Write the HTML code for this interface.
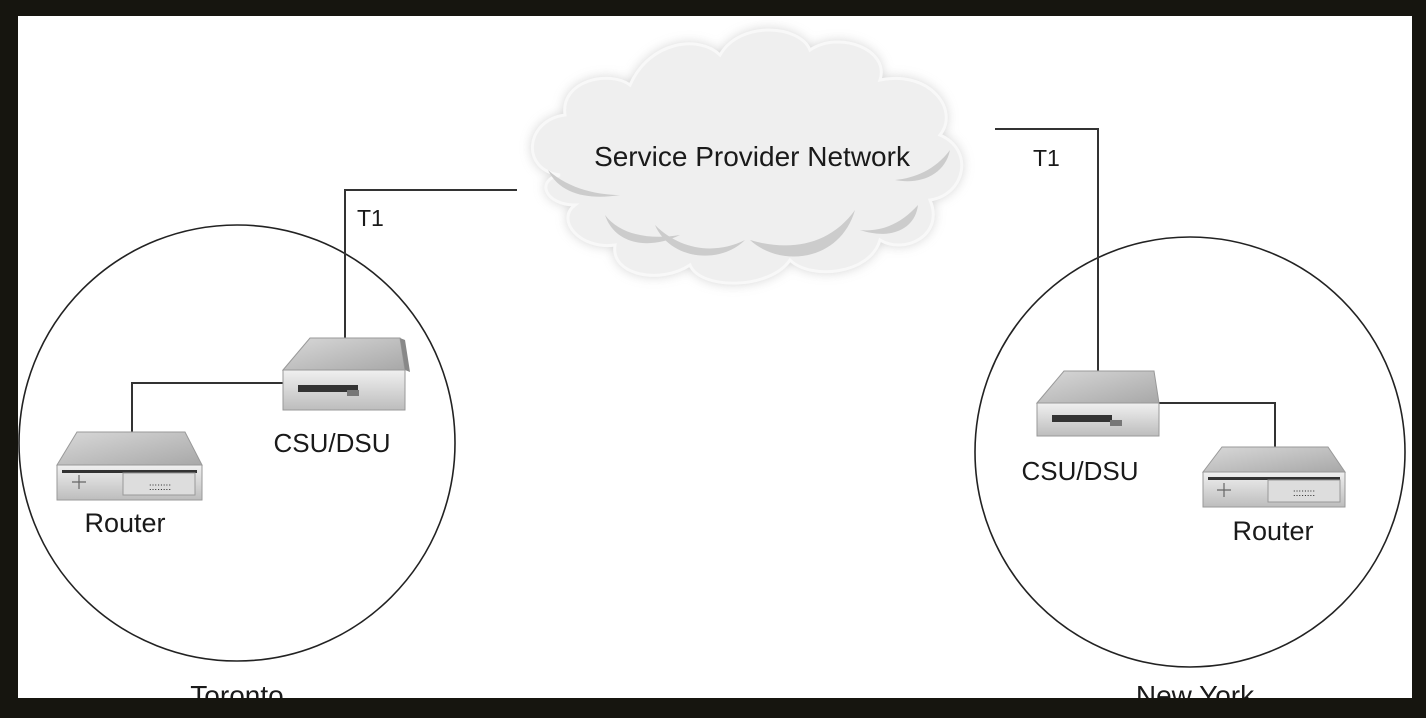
<!DOCTYPE html>
<html><head><style>
body{margin:0;background:#16150f;}
svg{display:block}
text{font-family:"Liberation Sans",sans-serif;fill:#1a1a1a}
</style></head><body>
<svg width="1426" height="718" viewBox="0 0 1426 718">
<defs>
<linearGradient id="top" x1="0" y1="0" x2="1" y2="1"><stop offset="0" stop-color="#d8d8d8"/><stop offset="1" stop-color="#a8a8a8"/></linearGradient>
<linearGradient id="front" x1="0" y1="0" x2="0" y2="1"><stop offset="0" stop-color="#f0f0f0"/><stop offset="1" stop-color="#bdbdbd"/></linearGradient>
<filter id="blur"><feGaussianBlur stdDeviation="6"/></filter>
<clipPath id="page"><rect x="18" y="16" width="1394" height="682"/></clipPath>
</defs>
<rect x="18" y="16" width="1394" height="682" fill="#fff"/>
<g clip-path="url(#page)">
<circle cx="237" cy="443" r="218" fill="none" stroke="#222" stroke-width="1.6"/>
<circle cx="1190" cy="452" r="215" fill="none" stroke="#222" stroke-width="1.6"/>
<polyline points="517,190 345,190 345,338" fill="none" stroke="#333" stroke-width="2"/>
<polyline points="290,383 132,383 132,440" fill="none" stroke="#333" stroke-width="2"/>
<polyline points="995,129 1098,129 1098,372" fill="none" stroke="#333" stroke-width="2"/>
<polyline points="1155,403 1275,403 1275,452" fill="none" stroke="#333" stroke-width="2"/>
<g>
<path d="M560,175 C520,170 525,120 565,115 C560,80 610,70 630,85 C650,40 700,35 720,55 C740,20 800,25 810,50 C840,30 890,50 880,80 C930,70 960,110 940,135 C975,150 965,195 930,200 C945,235 905,255 880,240 C870,275 810,280 790,260 C770,290 700,290 690,265 C660,285 610,275 615,245 C580,250 555,220 575,205 C545,205 535,180 560,175 Z" fill="#aaa" filter="url(#blur)" opacity="0.6"/>
<path d="M560,175 C520,170 525,120 565,115 C560,80 610,70 630,85 C650,40 700,35 720,55 C740,20 800,25 810,50 C840,30 890,50 880,80 C930,70 960,110 940,135 C975,150 965,195 930,200 C945,235 905,255 880,240 C870,275 810,280 790,260 C770,290 700,290 690,265 C660,285 610,275 615,245 C580,250 555,220 575,205 C545,205 535,180 560,175 Z" fill="#efefef" stroke="#f8f8f8" stroke-width="3"/>
<path d="M548,170 C560,195 590,200 620,195 C600,195 570,190 548,170Z" fill="#ccc"/>
<path d="M605,215 C615,245 650,250 680,235 C650,240 620,235 605,215Z" fill="#ccc"/>
<path d="M655,225 C670,260 720,265 745,240 C715,255 680,250 655,225Z" fill="#ccc"/>
<path d="M750,240 C780,268 840,262 855,210 C830,245 790,252 750,240Z" fill="#ccc"/>
<path d="M860,230 C890,240 915,230 918,205 C900,225 880,232 860,230Z" fill="#ccc"/>
<path d="M895,180 C920,185 945,175 950,150 C935,170 915,178 895,180Z" fill="#ccc"/>
<text x="752" y="166" font-size="28" text-anchor="middle">Service Provider Network</text>
</g>
<g>
<polygon points="283,370 310,338 400,338 405,370" fill="url(#top)" stroke="#999"/>
<polygon points="405,370 400,338 405,340 410,372" fill="#888"/>
<rect x="283" y="370" width="122" height="40" fill="url(#front)" stroke="#999"/>
<rect x="298" y="385" width="60" height="7" fill="#333"/>
<rect x="347" y="390" width="12" height="6" fill="#777"/>
</g>
<text x="332" y="452" font-size="26" text-anchor="middle">CSU/DSU</text>
<g>
<polygon points="57,465 77,432 185,432 202,465" fill="url(#top)" stroke="#999"/>
<rect x="57" y="465" width="145" height="35" fill="url(#front)" stroke="#999"/>
<rect x="62" y="470" width="135" height="3" fill="#333"/>
<rect x="123" y="473" width="72" height="22" fill="#ddd" stroke="#999"/>
<text x="160" y="490" font-size="10" text-anchor="middle" fill="#333">::::::::</text>
<path d="M72,482 h14 M79,475 v14" stroke="#666" stroke-width="1.2"/>
</g>
<text x="125" y="532" font-size="27" text-anchor="middle">Router</text>
<text x="357" y="226" font-size="23">T1</text>
<text x="1033" y="166" font-size="23">T1</text>
<g>
<polygon points="1037,403 1064,371 1154,371 1159,403" fill="url(#top)" stroke="#999"/>
<rect x="1037" y="403" width="122" height="33" fill="url(#front)" stroke="#999"/>
<rect x="1052" y="415" width="60" height="7" fill="#333"/>
<rect x="1110" y="420" width="12" height="6" fill="#777"/>
</g>
<text x="1080" y="480" font-size="26" text-anchor="middle">CSU/DSU</text>
<g>
<polygon points="1203,472 1222,447 1328,447 1345,472" fill="url(#top)" stroke="#999"/>
<rect x="1203" y="472" width="142" height="35" fill="url(#front)" stroke="#999"/>
<rect x="1208" y="477" width="132" height="3" fill="#333"/>
<rect x="1268" y="480" width="72" height="22" fill="#ddd" stroke="#999"/>
<text x="1304" y="496" font-size="10" text-anchor="middle" fill="#333">::::::::</text>
<path d="M1217,490 h14 M1224,483 v14" stroke="#666" stroke-width="1.2"/>
</g>
<text x="1273" y="540" font-size="27" text-anchor="middle">Router</text>
<text x="237" y="705" font-size="28" text-anchor="middle">Toronto</text>
<text x="1195" y="705" font-size="28" text-anchor="middle">New York</text>
</g>
</svg>
</body></html>
